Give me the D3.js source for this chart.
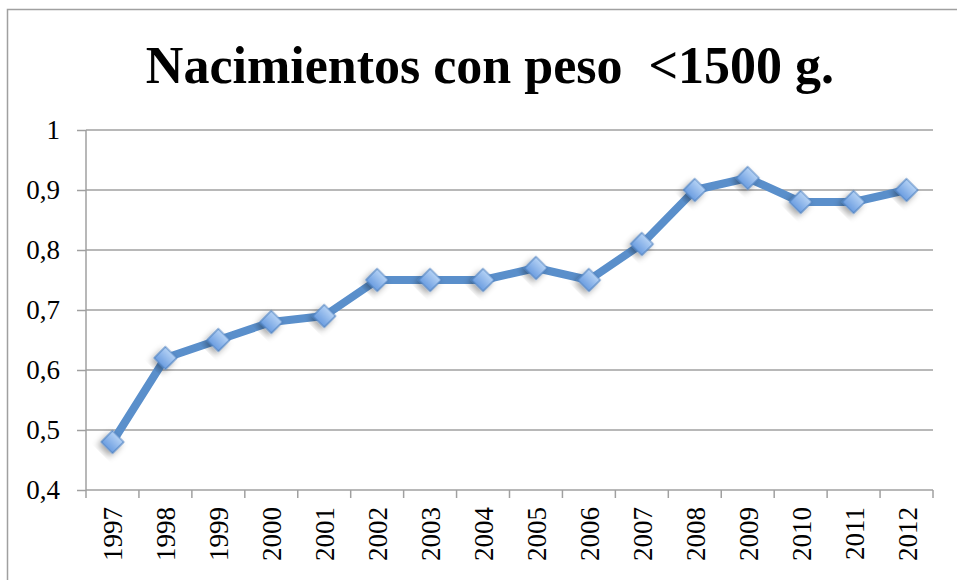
<!DOCTYPE html>
<html>
<head>
<meta charset="utf-8">
<script src="https://cdn.jsdelivr.net/npm/d3@7"></script>
<style>
  body { margin: 0; background: #fff; }
  text { font-family: "Liberation Serif", "DejaVu Serif", serif; }
</style>
</head>
<body>
<svg id="chart" width="957" height="580"></svg>
<script>
// datos
var years = ["1997", "1998", "1999", "2000", "2001", "2002", "2003", "2004",
             "2005", "2006", "2007", "2008", "2009", "2010", "2011", "2012"];
var values = [0.48, 0.62, 0.65, 0.68, 0.69, 0.75, 0.75, 0.75,
              0.77, 0.75, 0.81, 0.90, 0.92, 0.88, 0.88, 0.90];
var yTicks = [0.4, 0.5, 0.6, 0.7, 0.8, 0.9, 1];
var title = "Nacimientos con peso\u00a0 <1500 g.";

var svg = d3.select("#chart");
var margin = { left: 86, right: 24, top: 130, bottom: 90 };
var width = 957, height = 580;

// marco del gráfico
svg.append("rect")
    .attr("x", 7.5).attr("y", 9.5)
    .attr("width", 1000).attr("height", 1000)
    .attr("fill", "none")
    .attr("stroke", "#a0a0a0")
    .attr("stroke-width", 1.5);

// gradiente y sombra de los marcadores
var defs = svg.append("defs");
var grad = defs.append("linearGradient")
    .attr("id", "mk").attr("x1", 0).attr("y1", 0).attr("x2", 0).attr("y2", 1);
grad.append("stop").attr("offset", "0%").attr("stop-color", "#b5d2f5");
grad.append("stop").attr("offset", "100%").attr("stop-color", "#6b9de0");
var f = defs.append("filter").attr("id", "sh")
    .attr("x", "-50%").attr("y", "-50%").attr("width", "200%").attr("height", "200%");
f.append("feDropShadow").attr("dx", 0).attr("dy", 4).attr("stdDeviation", 3)
    .attr("flood-color", "#000").attr("flood-opacity", 0.35);

var x = d3.scaleBand()
    .domain(years)
    .range([margin.left, width - margin.right]);

var y = d3.scaleLinear()
    .domain([0.4, 1])
    .range([height - margin.bottom, margin.top]);

// título
svg.append("text")
    .attr("x", 490).attr("y", 83)
    .attr("text-anchor", "middle")
    .attr("font-size", 52)
    .attr("font-weight", "bold")
    .text(title);

// eje y con rejilla
var yAxis = svg.append("g")
    .attr("transform", "translate(" + margin.left + ",0)")
    .call(d3.axisLeft(y)
        .tickValues(yTicks)
        .tickSize(9)
        .tickPadding(17)
        .tickFormat(d => String(d).replace(".", ",")));
yAxis.select(".domain").remove();
yAxis.selectAll("line").attr("stroke", "#a0a0a0").attr("stroke-width", 1.5);
yAxis.selectAll("text").attr("font-size", 27).attr("fill", "#000")
    .style("font-family", "'Liberation Serif', serif");

svg.append("g")
    .selectAll("line")
    .data(yTicks)
    .join("line")
    .attr("x1", margin.left)
    .attr("x2", width - margin.right)
    .attr("y1", d => y(d))
    .attr("y2", d => y(d))
    .attr("stroke", "#a0a0a0")
    .attr("stroke-width", 1.5);

svg.append("line")
    .attr("x1", margin.left).attr("x2", margin.left)
    .attr("y1", y(1)).attr("y2", y(0.4))
    .attr("stroke", "#a0a0a0").attr("stroke-width", 1.5);

// eje x
var xAxis = svg.append("g")
    .attr("transform", "translate(0," + y(0.4) + ")")
    .call(d3.axisBottom(x).tickSize(0).tickPadding(0));
xAxis.select(".domain").remove();
xAxis.selectAll("text")
    .attr("font-size", 27)
    .attr("fill", "#000")
    .style("font-family", "'Liberation Serif', serif")
    .attr("text-anchor", "end")
    .attr("dy", 0)
    .attr("transform", "translate(10,17) rotate(-90)");

// marcas entre categorías
var edges = years.map(d => x(d)).concat([x(years[years.length - 1]) + x.bandwidth()]);
svg.append("g")
    .selectAll("line")
    .data(edges)
    .join("line")
    .attr("x1", d => d).attr("x2", d => d)
    .attr("y1", y(0.4)).attr("y2", y(0.4) + 8)
    .attr("stroke", "#a0a0a0").attr("stroke-width", 1.5);

// línea de datos
var pts = years.map((d, i) => [x(d) + x.bandwidth() / 2, y(values[i])]);
svg.append("path")
    .datum(pts)
    .attr("d", d3.line())
    .attr("fill", "none")
    .attr("stroke", "#5a8fcb")
    .attr("stroke-width", 8)
    .attr("stroke-linejoin", "round");

// marcadores en rombo
svg.append("g")
    .selectAll("path")
    .data(pts)
    .join("path")
    .attr("transform", d => "translate(" + d[0] + "," + d[1] + ") rotate(45)")
    .attr("d", "M-8,-8H8V8H-8Z")
    .attr("fill", "url(#mk)")
    .attr("stroke", "#4f82c0")
    .attr("stroke-width", 1.2)
    .attr("filter", "url(#sh)");
</script>
</body>
</html>
